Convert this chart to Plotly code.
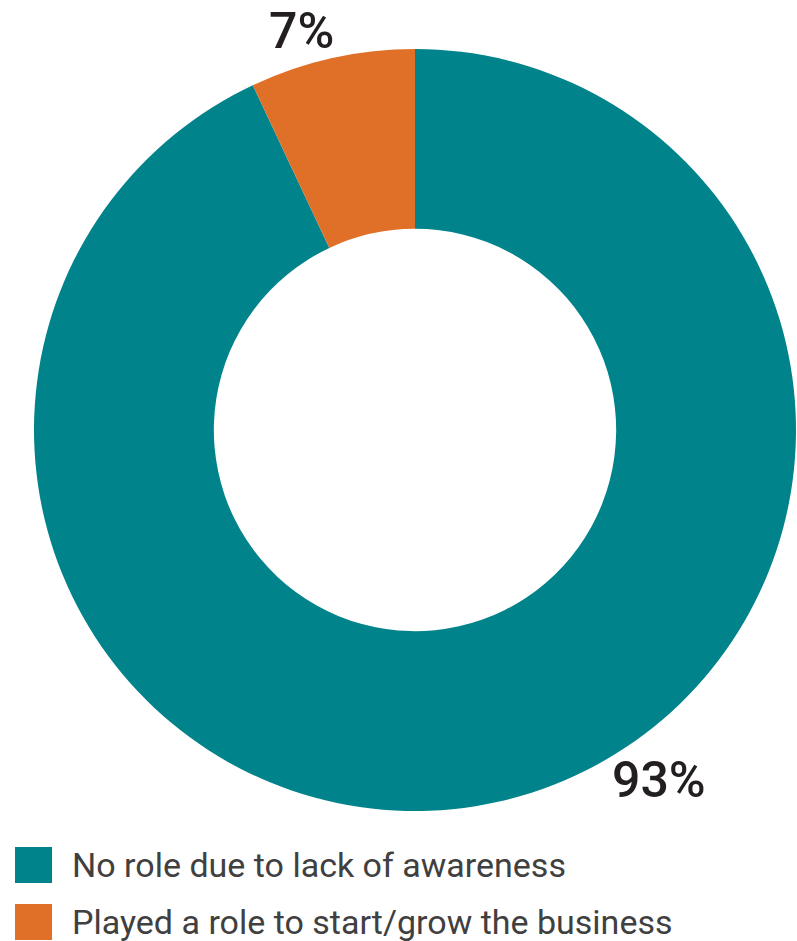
import plotly.graph_objects as go

# Survey split
labels = ["No role due to lack of awareness", "Played a role to start/grow the business"]
values = [93, 7]
colors = ["#00838A", "#E07028"]

W, H = 797, 941
FONT = "Roboto, Liberation Sans, sans-serif"

fig = go.Figure(
    go.Pie(
        labels=labels,
        values=values,
        hole=0.528,
        sort=False,
        direction="clockwise",
        rotation=0,
        marker=dict(colors=colors, line=dict(width=0)),
        textinfo="none",
        hoverinfo="label+percent",
        showlegend=False,
        domain=dict(x=[34 / W, 796 / W], y=[1 - 811 / H, 1 - 49 / H]),
    )
)

# Percentage call-outs outside the ring
pct_pos = [(659 / W, 1 - 780 / H), (301 / W, 1 - 31 / H)]
for v, (px, py) in zip(values, pct_pos):
    fig.add_annotation(
        x=px, y=py, xref="paper", yref="paper",
        text=f"{v}%", showarrow=False,
        font=dict(family=FONT, size=50, color="#231F20", weight=500),
        xanchor="center", yanchor="middle",
    )

# Legend drawn as large swatches with labels
legend_rows = [865, 922]
for lab, col, yc in zip(labels, colors, legend_rows):
    fig.add_shape(
        type="rect", xref="paper", yref="paper",
        x0=15 / W, x1=52 / W, y0=1 - (yc + 18) / H, y1=1 - (yc - 18) / H,
        fillcolor=col, line=dict(width=0),
    )
    fig.add_annotation(
        x=70 / W, y=1 - yc / H, xref="paper", yref="paper",
        text=lab, showarrow=False,
        font=dict(family=FONT, size=34, color="#404040"),
        xanchor="left", yanchor="middle",
    )

fig.update_layout(
    width=W, height=H,
    margin=dict(l=0, r=0, t=0, b=0),
    paper_bgcolor="white", plot_bgcolor="white",
)

fig.write_html("out.html")
